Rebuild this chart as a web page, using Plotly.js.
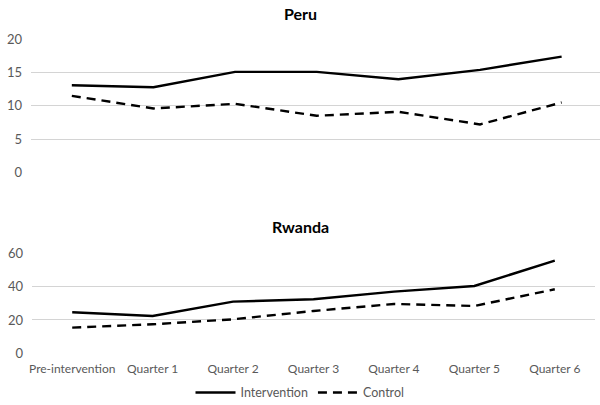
<!DOCTYPE html>
<html>
<head>
<meta charset="utf-8">
<script src="https://cdn.plot.ly/plotly-3.0.1.min.js"></script>
<style>html,body{margin:0;padding:0;background:#fff;}#chart{width:600px;height:405px;}</style>
</head>
<body>
<div id="chart"></div>
<script>
const categories = ["Pre-intervention","Quarter 1","Quarter 2","Quarter 3","Quarter 4","Quarter 5","Quarter 6"];
const peruIntervention = [13.1, 12.8, 15.1, 15.1, 14.0, 15.4, 17.4];
const peruControl = [11.5, 9.6, 10.3, 8.5, 9.1, 7.2, 10.5];
const rwandaIntervention = [24.6, 22.4, 31.0, 32.4, 37.0, 40.4, 55.6];
const rwandaControl = [15.4, 17.4, 20.4, 25.4, 29.6, 28.4, 38.4];
const peruTicks = [0, 5, 10, 15, 20];
const rwandaTicks = [0, 20, 40, 60];

const FONT = "Lato, Roboto, Arial, sans-serif";
const solid = {color: "#000", width: 2.4};
const dashed = {color: "#000", width: 2.4, dash: "9px,6px"};

const traces = [
  {x: categories, y: peruIntervention, xaxis: "x", yaxis: "y", mode: "lines", line: solid, name: "Intervention", legendgroup: "i", showlegend: true},
  {x: categories, y: peruControl, xaxis: "x", yaxis: "y", mode: "lines", line: dashed, name: "Control", legendgroup: "c", showlegend: true},
  {x: categories, y: rwandaIntervention, xaxis: "x2", yaxis: "y2", mode: "lines", line: solid, name: "Intervention", legendgroup: "i", showlegend: false},
  {x: categories, y: rwandaControl, xaxis: "x2", yaxis: "y2", mode: "lines", line: dashed, name: "Control", legendgroup: "c", showlegend: false}
];

const yCommon = {showline: false, zeroline: false, gridcolor: "#d4d4d4", gridwidth: 1, ticks: "", ticklabelstandoff: 8,
  tickfont: {family: FONT, size: 13, color: "#595959"}, fixedrange: true, automargin: false};

const layout = {
  width: 600, height: 405,
  margin: {l: 0, r: 0, t: 0, b: 0, autoexpand: false},
  paper_bgcolor: "#fff", plot_bgcolor: "#fff",
  font: {family: FONT, color: "#595959"},
  showlegend: true,
  legend: {orientation: "h", x: 0.5, xanchor: "center", y: 0.03, yanchor: "middle",
    font: {family: FONT, size: 12.5, color: "#595959"}, traceorder: "normal", itemwidth: 40, tracegroupgap: 0},
  xaxis: {domain: [31/600, 1], type: "category", range: [-0.5, 6.47], showticklabels: false, showgrid: false, zeroline: false, showline: false, anchor: "y", automargin: false},
  yaxis: Object.assign({}, yCommon, {domain: [1 - 172.3/405, 1 - 39.3/405], range: [0, 20], tickvals: peruTicks, anchor: "x"}),
  xaxis2: {domain: [32/600, 595/600], type: "category", range: [-0.5, 6.5], showgrid: false, zeroline: false, showline: false, ticks: "", anchor: "y2",
    ticklabelstandoff: 7, automargin: false, tickfont: {family: FONT, size: 12, color: "#595959"}},
  yaxis2: Object.assign({}, yCommon, {domain: [1 - 353.3/405, 1 - 253.3/405], range: [0, 60], tickvals: rwandaTicks, anchor: "x2"}),
  annotations: [
    {text: "<b>Peru</b>", xref: "paper", yref: "paper", x: 0.5, y: 1 - 13/405, xanchor: "center", yanchor: "middle", showarrow: false,
      font: {family: FONT, size: 16, color: "#000"}},
    {text: "<b>Rwanda</b>", xref: "paper", yref: "paper", x: 0.5, y: 1 - 227/405, xanchor: "center", yanchor: "middle", showarrow: false,
      font: {family: FONT, size: 16, color: "#000"}}
  ]
};

Plotly.newPlot("chart", traces, layout, {displayModeBar: false, staticPlot: true});
</script>
</body>
</html>
